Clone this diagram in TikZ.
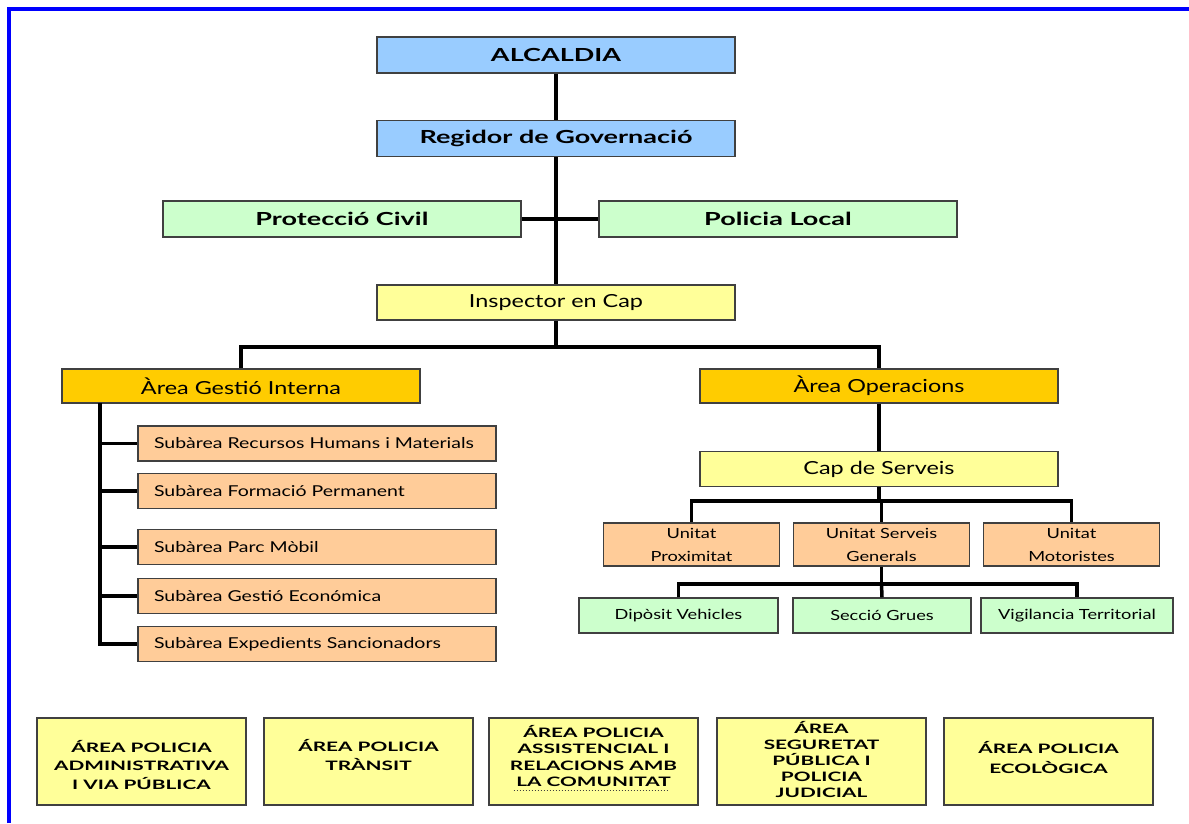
\documentclass[tikz,border=0pt]{standalone}
\usepackage{fontspec}
\setmainfont{Lato}[FakeStretch=1.3]
\newfontfamily\headfont{Lato}[FakeStretch=1.5]
\newfontfamily\policefont{Lato}[FakeStretch=1.6]
\usepackage{tikz}
\usetikzlibrary{positioning,calc}
\definecolor{headblue}{HTML}{99CCFF}
\definecolor{sidegreen}{HTML}{CCFFCC}
\definecolor{chiefyellow}{HTML}{FFFF99}
\definecolor{areagold}{HTML}{FFCC00}
\definecolor{subsalmon}{HTML}{FFCC99}
\definecolor{boxline}{HTML}{404040}
\definecolor{edgeblue}{HTML}{0000FF}
\tikzset{
    box/.style = {
        draw=boxline,
        shape=rectangle,
        inner sep=0pt,
        align=center,
        line width=1.5pt
    },
    headbox/.style = {
        box,
        fill=headblue,
        minimum width=358pt,
        minimum height=36pt,
        font=\headfont\fontsize{18}{20}\selectfont\bfseries
    },
    sidebox/.style = {
        box,
        fill=sidegreen,
        minimum width=358pt,
        minimum height=36pt,
        font=\headfont\fontsize{18}{20}\selectfont\bfseries
    },
    chiefbox/.style = {
        box,
        fill=chiefyellow,
        minimum width=358pt,
        minimum height=35pt,
        font=\fontsize{18}{20}\selectfont
    },
    areabox/.style = {
        box,
        fill=areagold,
        minimum width=358pt,
        minimum height=34pt,
        font=\fontsize{18}{20}\selectfont
    },
    subbox/.style = {
        box,
        fill=subsalmon,
        minimum width=358pt,
        minimum height=35pt,
        text width=326pt,
        align=left,
        font=\fontsize{15}{18}\selectfont
    },
    unitbox/.style = {
        box,
        fill=subsalmon,
        minimum width=176pt,
        minimum height=43pt,
        font=\fontsize{14}{23}\selectfont
    },
    sectbox/.style = {
        box,
        fill=sidegreen,
        minimum height=35pt,
        font=\fontsize{14}{17}\selectfont
    },
    policebox/.style = {
        box,
        fill=chiefyellow,
        minimum width=209pt,
        minimum height=87pt
    },
    policetext/.style = {
        inner sep=0pt,
        align=center,
        font=\policefont\fontsize{13}{#1}\selectfont\bfseries
    },
    link/.style = {
        draw=black,
        line width=3.5pt
    },
    edgeline/.style = {
        draw=edgeblue,
        line width=3.5pt
    },
}

\begin{document}
\begin{tikzpicture}[x=1pt,y=-1pt]
            \useasboundingbox (0,0) rectangle (1189,823);
            \path[edgeline] (9,823) -- (9,9) -- (1189,9);

            % top of the chart
            \node[headbox] (alcaldia) at (556,55) {ALCALDIA};
            \node[headbox] (regidor) at (556,138.5) {Regidor de Governació};
            \node[sidebox] (proteccio) at (342,219) {Protecció Civil};
            \node[sidebox] (policia) at (778,219) {Policia Local};
            \node[chiefbox] (inspector) at (556,302.5) {Inspector en Cap};

            \path[link] (alcaldia) -- (regidor);
            \path[link] (regidor) -- (inspector);
            \path[link] (proteccio) -- (policia);

            % areas
            \node[areabox] (gestio) at (241,386) {Àrea Gestió Interna};
            \node[areabox] (operacions) at (879,386) {Àrea Operacions};
            \coordinate (areabus) at (556,347);

            \path[link] (inspector) -- (areabus);
            \path[link] (gestio.north) |- (areabus) -| (operacions.north);

            % internal management
            \node[subbox] (sub1) at (317,443.5) {Subàrea Recursos Humans i Materials};
            \node[subbox] (sub2) at (317,491) {Subàrea Formació Permanent};
            \node[subbox] (sub3) at (317,547) {Subàrea Parc Mòbil};
            \node[subbox] (sub4) at (317,596) {Subàrea Gestió Económica};
            \node[subbox] (sub5) at (317,644) {Subàrea Expedients Sancionadors};
            \coordinate (subtrunk) at (100,403);

            \path[link] (subtrunk) |- (sub5.west);
            \foreach \s in {1,...,4}
                \path[link] (subtrunk |- sub\s.west) -- (sub\s.west);

            % operations
            \node[chiefbox] (capserveis) at (879,469) {Cap de Serveis};
            \node[unitbox] (proximitat) at (691.5,544.5) {Unitat\\Proximitat};
            \node[unitbox] (generals) at (881.5,544.5) {Unitat Serveis\\Generals};
            \node[unitbox] (motoristes) at (1071.5,544.5) {Unitat\\Motoristes};
            \coordinate (unitbus) at (879,501);

            \path[link] (operacions) -- (capserveis);
            \path[link] (capserveis) -- (unitbus);
            \path[link] (proximitat.north) |- (unitbus) -| (motoristes.north);
            \path[link] (unitbus) -- (unitbus -| generals.north) -- (generals.north);

            \node[sectbox, minimum width=199pt] (diposit) at (678.5,615.5) {Dipòsit Vehicles};
            \node[sectbox, minimum width=178pt] (grues) at (882,615.5) {Secció Grues};
            \node[sectbox, minimum width=192pt] (vigilancia) at (1077,615.5) {Vigilancia Territorial};
            \coordinate (sectbus) at (881.5,584);

            \path[link] (generals) -- (sectbus);
            \path[link] (diposit.north) |- (sectbus) -| (vigilancia.north);
            \path[link] (sectbus) -- (grues.north);

            % police areas
            \node[policebox, label={[policetext=18.5, yshift=-3pt]center:{ÁREA POLICIA\\ADMINISTRATIVA\\I VIA PÚBLICA}}] (administrativa) at (141.5,761.5) {};
            \node[policebox, label={[policetext=18.5, yshift=6.5pt]center:{ÁREA POLICIA\\TRÀNSIT}}] (transit) at (368.5,761.5) {};
            \node[policebox, label={[policetext=16.5, yshift=5.5pt]center:{ÁREA POLICIA\\ASSISTENCIAL I\\RELACIONS AMB\\LA COMUNITAT}}] (assistencial) at (593.5,761.5) {};
            \node[policebox, label={[policetext=16, yshift=2.5pt]center:{ÁREA\\SEGURETAT\\PÚBLICA I\\POLICIA\\JUDICIAL}}] (seguretat) at (821.5,761.5) {};
            \node[policebox, label={[policetext=20, yshift=4.5pt]center:{ÁREA POLICIA\\ECOLÒGICA}}] (ecologica) at (1048.5,761.5) {};
            \draw[dotted, line width=1pt, boxline] ($(assistencial.south)+(-80,-15)$) -- ++(155,0);
        \end{tikzpicture}
\end{document}
